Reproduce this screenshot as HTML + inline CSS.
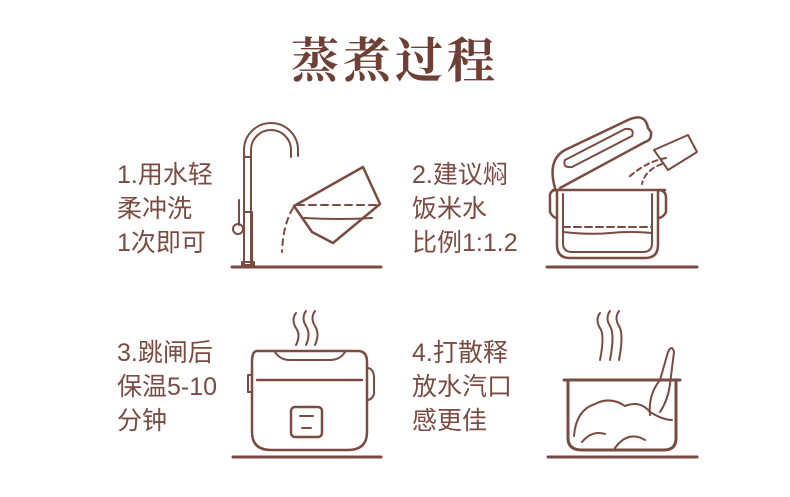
<!DOCTYPE html>
<html><head><meta charset="utf-8"><style>
html,body{margin:0;padding:0;background:#fff;}
#c{position:relative;width:790px;height:497px;overflow:hidden;background:#fff;}
.t{position:absolute;font-family:"Liberation Sans","Noto Sans CJK SC",sans-serif;font-size:25px;color:#7a4b40;line-height:34px;white-space:nowrap;}
.h{position:absolute;left:0;width:790px;top:22px;text-align:center;font-family:"Noto Serif CJK SC",serif;font-weight:bold;font-size:48px;color:#6e3f35;letter-spacing:4px;}
svg{position:absolute;left:0;top:0;}
</style></head><body><div id="c">
<div class="h">蒸煮过程</div>
<div class="t" style="left:117px;top:158px">1.用水轻<br>柔冲洗<br>1次即可</div>
<div class="t" style="left:412px;top:158px">2.建议焖<br>饭米水<br>比例1:1.2</div>
<div class="t" style="left:117px;top:336px">3.跳闸后<br>保温5-10<br>分钟</div>
<div class="t" style="left:412px;top:336px">4.打散释<br>放水汽口<br>感更佳</div>
<svg width="790" height="497" fill="none" stroke="#7a4b40" stroke-width="2.5" stroke-linecap="round" stroke-linejoin="round">
<!-- baselines -->
<line x1="232" y1="267" x2="381" y2="267" stroke-width="3"/>
<line x1="547" y1="267" x2="697" y2="267" stroke-width="3"/>
<line x1="233" y1="457" x2="381" y2="457" stroke-width="3"/>
<line x1="548" y1="457" x2="697" y2="457" stroke-width="3"/>
<!-- faucet -->
<path d="M244 265 V150 A27 27 0 0 1 298 150 V156" stroke-width="2"/>
<path d="M251 265 V150 A20 20 0 0 1 291 150 V157" stroke-width="2"/>
<path d="M245 157 H 251" stroke-width="2"/>
<rect x="244" y="212" width="8" height="53" stroke-width="2"/>
<line x1="239" y1="200" x2="239" y2="225" stroke-width="2"/>
<circle cx="238" cy="229" r="5" stroke-width="2"/>
<rect x="242" y="262" width="12" height="5" stroke-width="2"/>
<!-- cup -->
<path d="M294 206 L363 167 L380 204 L333 243 L312 232 Z"/>
<line x1="297" y1="205" x2="378" y2="205" stroke-dasharray="7 5" stroke-width="2"/>
<path d="M304 218 Q340 220 372 218" stroke-width="2"/>
<path d="M293 208 Q283 225 282 252" stroke-dasharray="6 5" stroke-width="2"/>
<!-- pot 2 -->
<line x1="553" y1="190" x2="665" y2="190"/>
<path d="M557 191 V245 Q557 258 570 258 H645 Q658 258 658 245 V191"/>
<path d="M563 194 V243 Q563 252 572 252 H643 Q652 252 652 243 V194" stroke-width="2"/>
<path d="M557 190 Q549 190 550 198 V212 Q553 218 557 218"/>
<path d="M658 190 Q666 190 666 198 V212 Q663 218 658 218"/>
<line x1="563" y1="227" x2="652" y2="227" stroke-dasharray="7 4" stroke-width="2"/>
<path d="M563 232 Q590 235 610 233 Q630 231 652 233" stroke-width="2"/>
<path d="M555 188 Q547 160 565 150 L628 120 Q645 112 648 128 L651 132 Q652 140 645 142 L560 188"/>
<path d="M565 160 L625 129 Q635 128 632 136 L572 167 Q562 168 565 160" stroke-width="2"/>
<path d="M654 150 L688 135 L697 152 L668 170 Z" stroke-width="2"/>
<path d="M666 158 Q645 162 628 178" stroke-dasharray="5 4" stroke-width="2"/>
<path d="M662 164 Q645 170 642 184" stroke-dasharray="5 4" stroke-width="2"/>
<!-- cooker 3 -->
<path d="M257 351 H358 Q367 351 367 362 V432 Q367 450 348 450 H271 Q252 450 252 432 V362 Q252 351 257 351 Z"/>
<line x1="257" y1="380" x2="362" y2="380"/>
<path d="M275 352 Q280 360 290 360 H330 Q340 360 345 352" stroke-width="2"/>
<path d="M252 375 H248 V392 H252" stroke-width="2"/>
<path d="M367 368 Q373 368 374 376 V394 Q372 400 367 400" stroke-width="2"/>
<rect x="291" y="407" width="31" height="30" rx="4"/>
<line x1="300" y1="416" x2="313" y2="416" stroke-width="2"/>
<line x1="302" y1="428" x2="311" y2="428" stroke-width="2"/>
<path d="M296 313 Q291 320 296 328 Q301 335 296 345" stroke-width="2"/>
<path d="M306 311 Q301 318 306 326 Q311 334 306 345" stroke-width="2"/>
<path d="M315 311 Q310 318 315 326 Q320 334 315 345" stroke-width="2"/>
<!-- bowl 4 -->
<line x1="564" y1="380" x2="680" y2="380" stroke-width="3"/>
<path d="M568 381 V438 Q568 450 582 450 H664 Q676 450 676 438 V381" stroke-width="3"/>
<path d="M574 436 Q576 410 595 404 Q610 396 625 406 Q640 400 650 412 Q663 420 672 420" stroke-width="2"/>
<path d="M582 442 Q592 430 605 434 M615 448 Q628 430 645 440" stroke-width="2"/>
<path d="M650 415 Q648 395 660 380 L668 352 Q672 344 674 352 L670 384 Q668 400 660 412" stroke-width="2"/>
<path d="M600 313 Q595 320 600 328 Q605 335 600 360" stroke-width="2"/>
<path d="M610 311 Q605 318 610 326 Q615 334 610 360" stroke-width="2"/>
<path d="M619 311 Q614 318 619 326 Q624 334 619 360" stroke-width="2"/>
</svg>
</div></body></html>
